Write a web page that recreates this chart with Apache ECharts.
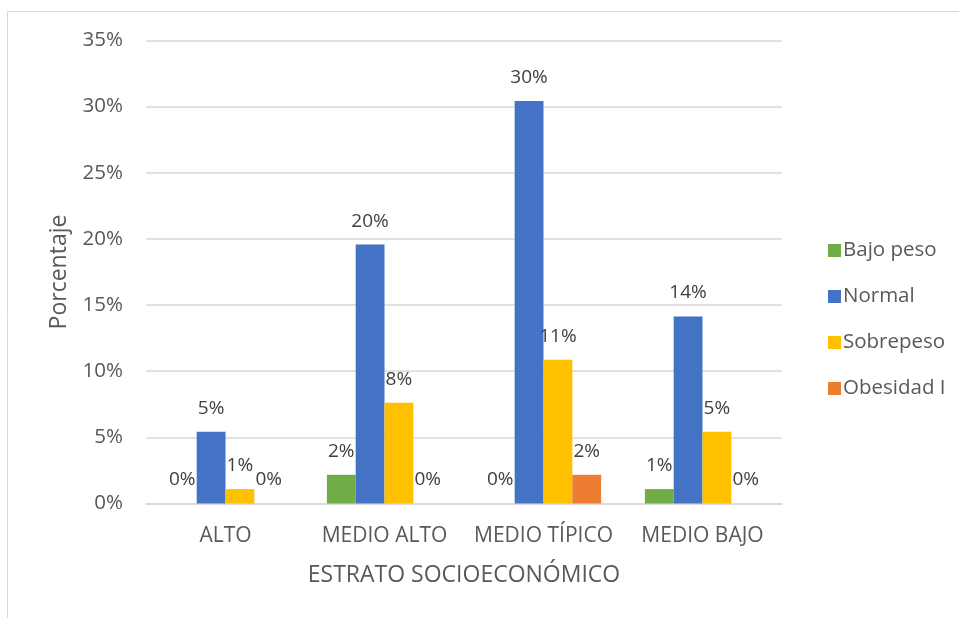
<!DOCTYPE html>
<html>
<head>
<meta charset="utf-8">
<script src="https://cdn.jsdelivr.net/npm/echarts@6/dist/echarts.min.js"></script>
<style>
html,body{margin:0;padding:0;background:#fff;}
#c{width:959px;height:618px;}
</style>
</head>
<body>
<div id="c"></div>
<script>
const categories = ['ALTO', 'MEDIO ALTO', 'MEDIO TÍPICO', 'MEDIO BAJO'];
const seriesNames = ['Bajo peso', 'Normal', 'Sobrepeso', 'Obesidad I'];
const bajoPeso = [0, 2.17, 0, 1.09];
const normal = [5.43, 19.57, 30.43, 14.13];
const sobrepeso = [1.09, 7.61, 10.87, 5.43];
const obesidad = [0, 0, 2.17, 0];
const yTicks = [0, 5, 10, 15, 20, 25, 30, 35];
const colors = ['#70ad47', '#4472c4', '#ffc000', '#ed7d31'];

const FONT = '"Open Sans", sans-serif';
const values = [bajoPeso, normal, sobrepeso, obesidad];

const chart = echarts.init(document.getElementById('c'), null, {renderer: 'canvas'});
chart.setOption({
  animation: false,
  backgroundColor: '#ffffff',
  graphic: [{
    type: 'rect', silent: true, z: -1,
    shape: {x: 7.5, y: 11.5, width: 1200, height: 1200},
    style: {fill: 'none', stroke: '#d9d9d9', lineWidth: 1}
  }],
  grid: {left: 146, right: 177, top: 40.5, bottom: 114.5, containLabel: false},
  legend: {
    orient: 'vertical',
    left: 823, top: 235,
    itemWidth: 13, itemHeight: 13, itemGap: 25,
    icon: 'rect',
    data: seriesNames,
    textStyle: {fontFamily: FONT, fontSize: 20.5, color: '#595959', lineHeight: 20, padding: [0,0,0,-3]}
  },
  xAxis: {
    type: 'category',
    data: categories,
    name: 'ESTRATO SOCIOECONÓMICO',
    nameLocation: 'middle',
    nameGap: 60,
    nameTextStyle: {fontFamily: FONT, fontSize: 23, color: '#595959'},
    axisLine: {lineStyle: {color: '#d9d9d9', width: 1.5}},
    axisTick: {show: false},
    axisLabel: {interval: 0, fontFamily: FONT, fontSize: 21, color: '#595959', margin: 22}
  },
  yAxis: {
    type: 'value',
    min: 0, max: 35, interval: 5,
    name: 'Porcentaje',
    nameLocation: 'middle',
    nameGap: 75,
    nameTextStyle: {fontFamily: FONT, fontSize: 23, color: '#595959'},
    axisLine: {show: false},
    axisTick: {show: false},
    splitLine: {lineStyle: {color: '#d9d9d9', width: 1.5}},
    axisLabel: {
      fontFamily: FONT, fontSize: 20.5, color: '#595959', margin: 23,
      formatter: v => (yTicks.indexOf(v) >= 0 ? v + '%' : '')
    }
  },
  series: seriesNames.map((n, i) => ({
    name: n,
    type: 'bar',
    data: values[i],
    barGap: '0%',
    barCategoryGap: '27.5%',
    itemStyle: {color: colors[i]},
    label: {
      show: true,
      position: 'top',
      distance: 14,
      fontFamily: FONT, fontSize: 19, color: '#404040',
      formatter: p => Math.round(p.value) + '%'
    }
  }))
});
</script>
</body>
</html>
